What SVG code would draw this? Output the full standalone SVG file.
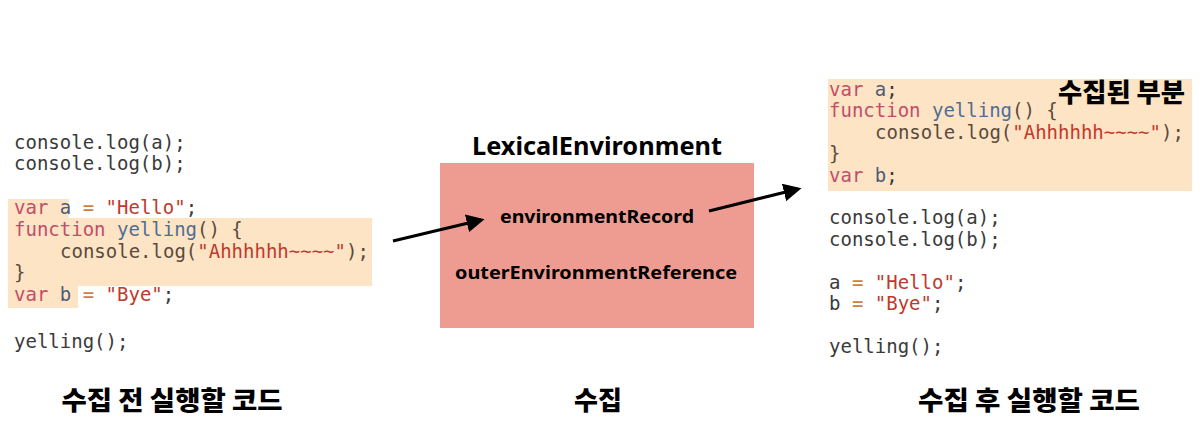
<svg xmlns="http://www.w3.org/2000/svg" width="1200" height="443" viewBox="0 0 1200 443">
<defs>
<style>
.code{font-family:"DejaVu Sans Mono","Liberation Mono",monospace;font-size:19px;fill:#3a3a3a}
.kw{fill:#c24d6b}.str{fill:#c0392b}.nm{fill:#4e5a78}.fn{fill:#4f6e94}.op{fill:#c9843f}.br{fill:#5b4a3e}
.hl{fill:#fde4c4}
.lbl{font-family:"Noto Sans CJK KR","Noto Sans",sans-serif;font-weight:900;fill:#000}
.env{font-family:"Noto Sans","Noto Sans CJK KR",sans-serif;font-weight:bold;fill:#000}
.conn{stroke:#000;stroke-width:3;fill:none}
</style>
<marker id="ah" viewBox="0 0 10 10" refX="8" refY="5" markerWidth="6" markerHeight="6" orient="auto" markerUnits="strokeWidth">
<path d="M0,0 L10,5 L0,10 z" fill="#000"/>
</marker>
</defs>
<rect width="1200" height="443" fill="#fff"/>

<g id="left-code">
<rect class="hl" x="8" y="199" width="61" height="20"/>
<rect class="hl" x="8" y="218" width="364" height="68"/>
<rect class="hl" x="8" y="285" width="70" height="23"/>
<text class="code" x="14" y="149">console.log(a);</text>
<text class="code" x="14" y="170">console.log(b);</text>
<text class="code" x="14" y="214"><tspan class="kw">var</tspan> <tspan class="nm">a</tspan> <tspan class="op">=</tspan> <tspan class="str">"Hello"</tspan>;</text>
<text class="code" x="14" y="236"><tspan class="kw">function</tspan> <tspan class="fn">yelling</tspan><tspan class="br">() {</tspan></text>
<text class="code" x="60" y="258"><tspan class="br">console.log(</tspan><tspan class="str">"Ahhhhhh~~~~"</tspan><tspan class="br">);</tspan></text>
<text class="code br" x="14" y="279">}</text>
<text class="code" x="14" y="301"><tspan class="kw">var</tspan> <tspan class="nm">b</tspan> <tspan class="op">=</tspan> <tspan class="str">"Bye"</tspan>;</text>
<text class="code" x="14" y="348">yelling();</text>
</g>

<g id="left-label">
<text class="lbl" x="172" y="410" font-size="26" text-anchor="middle" textLength="221" lengthAdjust="spacingAndGlyphs">수집 전 실행할 코드</text>
</g>

<g id="lexical-environment">
<text class="env" x="597" y="155" font-size="25" text-anchor="middle" textLength="250" lengthAdjust="spacingAndGlyphs">LexicalEnvironment</text>
<rect x="440" y="163" width="314" height="165" fill="#ee9c91"/>
<text class="env" x="597" y="223" font-size="18" text-anchor="middle" textLength="194" lengthAdjust="spacingAndGlyphs">environmentRecord</text>
<text class="env" x="596" y="279" font-size="18" text-anchor="middle" textLength="282" lengthAdjust="spacingAndGlyphs">outerEnvironmentReference</text>
</g>

<g id="middle-label">
<text class="lbl" x="598" y="410" font-size="26" text-anchor="middle">수집</text>
</g>

<g id="right-code">
<rect class="hl" x="828" y="79" width="364" height="112"/>
<text class="code" x="829" y="96"><tspan class="kw">var</tspan> <tspan class="nm">a</tspan>;</text>
<text class="code" x="829" y="117"><tspan class="kw">function</tspan> <tspan class="fn">yelling</tspan><tspan class="br">() {</tspan></text>
<text class="code" x="875" y="139"><tspan class="br">console.log(</tspan><tspan class="str">"Ahhhhhh~~~~"</tspan><tspan class="br">);</tspan></text>
<text class="code br" x="829" y="160">}</text>
<text class="code" x="829" y="182"><tspan class="kw">var</tspan> <tspan class="nm">b</tspan>;</text>
<text class="lbl" x="1185" y="102" font-size="26" text-anchor="end" textLength="127" lengthAdjust="spacingAndGlyphs">수집된 부분</text>
<text class="code" x="829" y="224">console.log(a);</text>
<text class="code" x="829" y="246">console.log(b);</text>
<text class="code" x="829" y="289">a <tspan class="op">=</tspan> <tspan class="str">"Hello"</tspan>;</text>
<text class="code" x="829" y="310">b <tspan class="op">=</tspan> <tspan class="str">"Bye"</tspan>;</text>
<text class="code" x="829" y="353">yelling();</text>
</g>

<g id="right-label">
<text class="lbl" x="1029" y="410" font-size="26" text-anchor="middle" textLength="222" lengthAdjust="spacingAndGlyphs">수집 후 실행할 코드</text>
</g>

<g id="connectors">
<line class="conn" x1="393" y1="241" x2="481" y2="220" marker-end="url(#ah)"/>
<line class="conn" x1="709" y1="211" x2="798" y2="189" marker-end="url(#ah)"/>
</g>
</svg>
